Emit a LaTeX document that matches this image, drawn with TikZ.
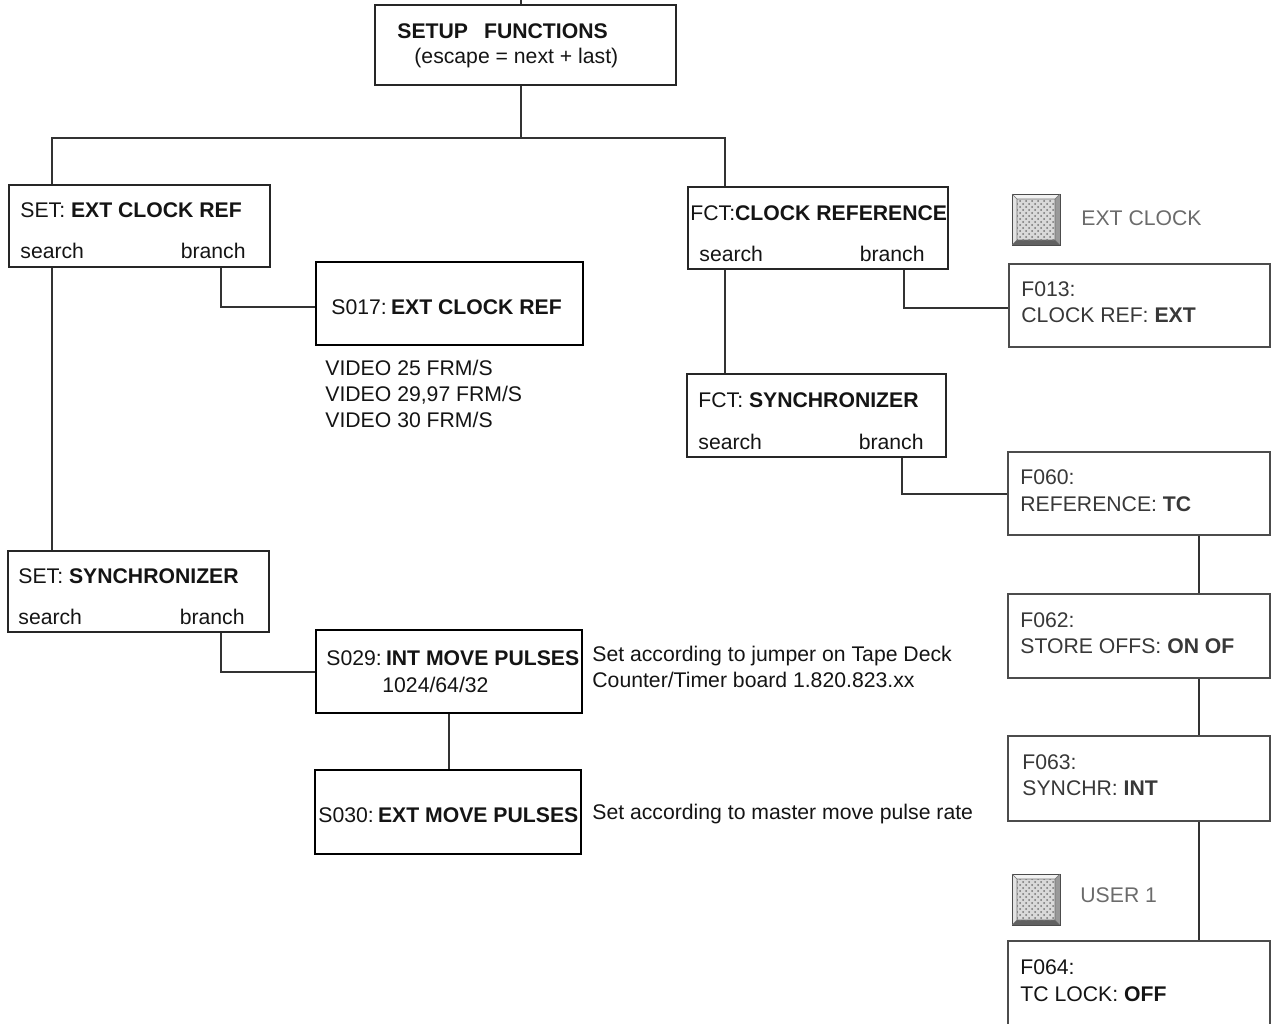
\documentclass[tikz,border=0pt]{standalone}
\usepackage{fontspec}
\setmainfont{Liberation Sans}
\usetikzlibrary{fit,patterns}
\begin{document}
\begin{tikzpicture}[x=0.5pt,y=-0.5pt,
  txt/.style={font=\fontsize{10.6}{12.7}\selectfont, inner sep=0pt, text=black!92},
  ftxt/.style={txt, text=black!78},
  ktxt/.style={txt, text=black!58},
  thinbox/.style={draw=black!85, line width=0.55pt, inner sep=0pt},
  sbox/.style={draw=black, line width=1.3pt, inner sep=0pt},
  fbox/.style={draw=black!70, line width=1.05pt, inner sep=0pt},
  conn/.style={draw=black!80, line width=0.55pt}]
\useasboundingbox (0,0) rectangle (1274,1023);
\clip (0,0) rectangle (1274,1023);

% ---------- boxes ----------
\node[thinbox, fit={(375,5)(676,85)}] (setup) {};
\node[thinbox, fit={(9,185)(270,267)}] (setclk) {};
\node[sbox, fit={(316,262)(583,345)}] (s017) {};
\node[thinbox, fit={(8,551)(269,632)}] (setsync) {};
\node[sbox, fit={(316,630)(582,713)}] (s029) {};
\node[sbox, fit={(315,770)(581,854)}] (s030) {};
\node[thinbox, fit={(688,187)(948,269)}] (fctclk) {};
\node[thinbox, fit={(687,374)(946,457)}] (fctsync) {};
\node[fbox, fit={(1009,264)(1270,347)}] (f013) {};
\node[fbox, fit={(1008,452)(1270,535)}] (f060) {};
\node[fbox, fit={(1008,594)(1270,678)}] (f062) {};
\node[fbox, fit={(1008,736)(1270,821)}] (f063) {};
\node[fbox, fit={(1008,941)(1270,1045)}] (f064) {};

% ---------- texts ----------
\node[txt, anchor=base west] (setupT) at (397,38) {\textbf{SETUP}\hspace{8pt}\textbf{FUNCTIONS}};
\node[txt, anchor=base west] (setupE) at (414,63) {(escape = next + last)};

\node[txt, anchor=base west] (setclkT) at (20,217) {SET: \textbf{EXT CLOCK REF}};
\node[txt, anchor=base west] (setclkS) at (20,258) {search};
\node[txt, anchor=base east] (setclkB) at (246,258) {branch};

\node[txt, anchor=base west] (s017T) at (331,314) {S017:\hspace{0.2em}\textbf{EXT CLOCK REF}};
\node[txt, anchor=base west] (v1) at (325,375) {VIDEO 25 FRM/S};
\node[txt, anchor=base west] (v2) at (325,401) {VIDEO 29,97 FRM/S};
\node[txt, anchor=base west] (v3) at (325,427) {VIDEO 30 FRM/S};

\node[txt, anchor=base west] (setsyncT) at (18,583) {SET: \textbf{SYNCHRONIZER}};
\node[txt, anchor=base west] (setsyncS) at (18,624) {search};
\node[txt, anchor=base east] (setsyncB) at (245,624) {branch};

\node[txt, anchor=base west] (s029T) at (326,665) {S029:\hspace{0.2em}\textbf{INT MOVE PULSES}};
\node[txt, anchor=base west] (s029V) at (382,692) {1024/64/32};
\node[txt, anchor=base west] (n1) at (592,661) {Set according to jumper on Tape Deck};
\node[txt, anchor=base west] (n2) at (592,687) {Counter/Timer board 1.820.823.xx};

\node[txt, anchor=base west] (s030T) at (318,822) {S030:\hspace{0.2em}\textbf{EXT MOVE PULSES}};
\node[txt, anchor=base west] (n3) at (592,819) {Set according to master move pulse rate};

\node[txt, anchor=base west] (fctclkT) at (690,220) {FCT:\textbf{CLOCK REFERENCE}};
\node[txt, anchor=base west] (fctclkS) at (699,261) {search};
\node[txt, anchor=base east] (fctclkB) at (925,261) {branch};

\node[txt, anchor=base west] (fctsyncT) at (698,407) {FCT: \textbf{SYNCHRONIZER}};
\node[txt, anchor=base west] (fctsyncS) at (698,449) {search};
\node[txt, anchor=base east] (fctsyncB) at (924,449) {branch};

\node[ftxt, anchor=base west] (f013a) at (1021,296) {F013:};
\node[ftxt, anchor=base west] (f013b) at (1021,322) {CLOCK REF: \textbf{EXT}};
\node[ftxt, anchor=base west] (f060a) at (1020,484) {F060:};
\node[ftxt, anchor=base west] (f060b) at (1020,511) {REFERENCE: \textbf{TC}};
\node[ftxt, anchor=base west] (f062a) at (1020,627) {F062:};
\node[ftxt, anchor=base west] (f062b) at (1020,653) {STORE OFFS: \textbf{ON OF}};
\node[ftxt, anchor=base west] (f063a) at (1022,769) {F063:};
\node[ftxt, anchor=base west] (f063b) at (1022,795) {SYNCHR: \textbf{INT}};
\node[txt, anchor=base west] (f064a) at (1020,974) {F064:};
\node[txt, anchor=base west] (f064b) at (1020,1001) {TC LOCK: \textbf{OFF}};

\node[ktxt, anchor=base west] (k1T) at (1081,225) {EXT CLOCK};
\node[ktxt, anchor=base west] (k2T) at (1080,902) {USER 1};

% ---------- key icons ----------
\foreach \kx/\ky in {1012/194, 1012/874}{
  \begin{scope}[shift={(\kx,\ky)}]
    \fill[gray!10] (0,0) -- (48,0) -- (43,5) -- (5,5) -- cycle;
    \fill[gray!22] (0,0) -- (5,5) -- (5,46) -- (0,51) -- cycle;
    \fill[black!40] (48,0) -- (48,51) -- (43,46) -- (43,5) -- cycle;
    \fill[black!62] (0,51) -- (48,51) -- (43,46) -- (5,46) -- cycle;
    \fill[gray!30] (5,5) rectangle (43,46);
    \fill[pattern=crosshatch dots, pattern color=black!55] (5,5) rectangle (43,46);
    \draw[black!70, line width=0.4pt] (0,0) rectangle (48,51);
    \draw[black!55, line width=0.3pt] (5,5) rectangle (43,46)
      (0,0) -- (5,5) (48,0) -- (43,5) (0,51) -- (5,46) (48,51) -- (43,46);
  \end{scope}
}

% ---------- connectors ----------
\coordinate (hub) at (521,138);
\coordinate (ls) at (52,138);
\coordinate (rs) at (725,138);
\coordinate (b1) at (221,307);
\coordinate (b2) at (221,672);
\coordinate (b3) at (904,308);
\coordinate (b4) at (902,494);
\coordinate (m1) at (449,740);
\coordinate (rc) at (1199,700);

\draw[conn] (setup.north -| hub) -- ++(0,-20);
\draw[conn] (setup.south -| hub) -- (hub);
\draw[conn] (setclk.north -| ls) -- (ls) -- (rs) -- (fctclk.north -| rs);
\draw[conn] (setclk.south -| ls) -- (setsync.north -| ls);
\draw[conn] (setclk.south -| b1) -- (b1) -- (s017.west |- b1);
\draw[conn] (setsync.south -| b2) -- (b2) -- (s029.west |- b2);
\draw[conn] (s029.south -| m1) -- (s030.north -| m1);
\draw[conn] (fctclk.south -| rs) -- (fctsync.north -| rs);
\draw[conn] (fctclk.south -| b3) -- (b3) -- (f013.west |- b3);
\draw[conn] (fctsync.south -| b4) -- (b4) -- (f060.west |- b4);
\draw[conn] (f060.south -| rc) -- (f062.north -| rc);
\draw[conn] (f062.south -| rc) -- (f063.north -| rc);
\draw[conn] (f063.south -| rc) -- (f064.north -| rc);
\end{tikzpicture}
\end{document}
